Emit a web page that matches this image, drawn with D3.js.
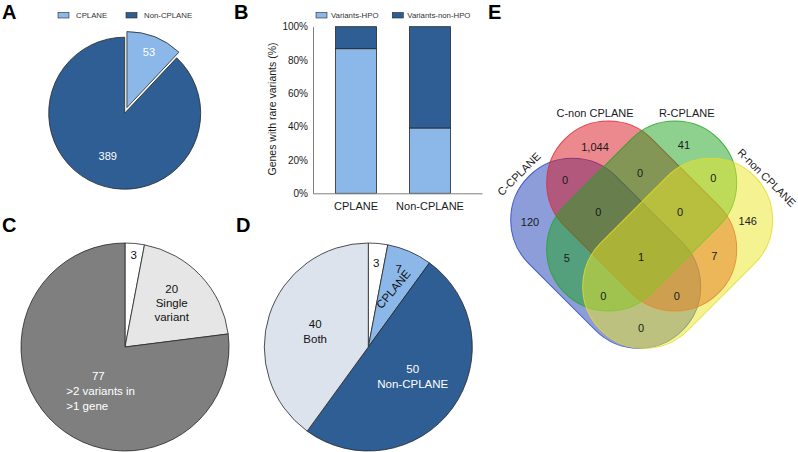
<!DOCTYPE html>
<html>
<head>
<meta charset="utf-8" />
<title>CPLANE figure</title>
<script src="https://cdn.jsdelivr.net/npm/d3@7"></script>
<style>
    body { margin: 0; background: #fff; }
    svg text { font-family: "Liberation Sans", Arial, sans-serif; }
    .letter { font-size: 20px; font-weight: bold; fill: #000; }
</style>
</head>
<body>
<svg id="fig" width="798" height="452"></svg>
<script>
// ---- data ----
var pieACats = ["CPLANE", "Non-CPLANE"];
var pieAValues = [53, 389];

var barCats = ["CPLANE", "Non-CPLANE"];
var seriesB = ["Variants-HPO", "Variants-non-HPO"];
var hpoPct = [86.8, 39.2];
var nonHpoPct = [13.2, 60.8];
var yTicksB = [0, 20, 40, 60, 80, 100];

var pieCValues = [3, 20, 77];
var pieCLabels = [["3"], ["20", "Single", "variant"], ["77", ">2 variants in", ">1 gene"]];

var pieDValues = [3, 7, 50, 40];
var pieDLabels = [["3"], ["7"], ["50", "Non-CPLANE"], ["40", "Both"]];

var vennSets = ["C-CPLANE", "C-non CPLANE", "R-CPLANE", "R-non CPLANE"];
var vennRegions = ["A", "B", "C", "D", "AB", "BC", "CD", "ABC", "BCD", "AC", "ABCD", "BD", "ACD", "ABD", "AD"];
var vennCounts = [120, 1044, 41, 146, 0, 0, 0, 0, 0, 5, 1, 7, 0, 0, 0];

// ---- colours ----
var lightBlue = "#8bb8e8", darkBlue = "#2e5e93", edge = "#262626";

var svg = d3.select("#fig");

function letter(t, x, y) {
    svg.append("text").attr("class", "letter").attr("x", x).attr("y", y).text(t);
}

function legend(g, names, colors, xs, textGap) {
    names.forEach(function (n, i) {
        g.append("rect").attr("x", xs[i]).attr("y", 12.5).attr("width", 11).attr("height", 5.5)
            .attr("fill", colors[i]).attr("stroke", edge).attr("stroke-width", 0.6);
        g.append("text").attr("x", xs[i] + 11 + textGap).attr("y", 15.3).attr("dy", "0.35em")
            .style("font-size", "7.8px").attr("fill", "#333").text(n);
    });
}

// ---- A: pie ----
letter("A", 2, 19);
legend(svg.append("g"), pieACats, [lightBlue, darkBlue], [58, 126], 7);

var rA = 76, cA = [124.7, 113.2];
var arcsA = d3.pie().sort(null)(pieAValues);
var arcA = d3.arc().innerRadius(0).outerRadius(rA);
var gA = svg.append("g").attr("transform", "translate(" + cA + ")");
gA.selectAll("path").data(arcsA).enter().append("path")
    .attr("d", arcA)
    .attr("transform", function (d, i) {
        if (i > 0) return null;
        var m = (d.startAngle + d.endAngle) / 2;
        return "translate(" + (Math.sin(m) * 6) + "," + (-Math.cos(m) * 6) + ")";
    })
    .attr("fill", function (d, i) { return [lightBlue, darkBlue][i]; })
    .attr("stroke", edge).attr("stroke-width", 0.8);
var labelArcA = [d3.arc().innerRadius(60).outerRadius(60), d3.arc().innerRadius(46).outerRadius(46)];
gA.selectAll("text.v").data(arcsA).enter().append("text")
    .attr("transform", function (d, i) {
        var c = labelArcA[i].centroid(d);
        if (i === 0) { var m = (d.startAngle + d.endAngle) / 2; c[0] += Math.sin(m) * 6; c[1] -= Math.cos(m) * 6; }
        return "translate(" + c + ")";
    })
    .attr("dy", "0.35em").attr("text-anchor", "middle").style("font-size", "11px").attr("fill", "#fff")
    .text(function (d) { return d.data; });

// ---- B: stacked bars ----
letter("B", 234, 19);
legend(svg.append("g"), seriesB, [lightBlue, darkBlue], [316, 392.3], 4);

var xB = d3.scaleBand().domain(barCats).range([313, 482]).paddingInner(0.446).paddingOuter(0.365).align(0.417);
var yB = d3.scaleLinear().domain([0, 100]).range([193.3, 26.7]);
var stackB = d3.stack().keys(seriesB)(barCats.map(function (c, i) {
    var o = { cat: c }; o[seriesB[0]] = hpoPct[i]; o[seriesB[1]] = nonHpoPct[i]; return o;
}));
var gB = svg.append("g");
gB.selectAll("g.s").data(stackB).enter().append("g")
    .attr("fill", function (d, i) { return [lightBlue, darkBlue][i]; })
    .selectAll("rect").data(function (d) { return d; }).enter().append("rect")
    .attr("x", function (d) { return xB(d.data.cat); })
    .attr("width", xB.bandwidth())
    .attr("y", function (d) { return yB(d[1]); })
    .attr("height", function (d) { return yB(d[0]) - yB(d[1]); })
    .attr("stroke", edge).attr("stroke-width", 0.8);

var yAxisB = gB.append("g").attr("transform", "translate(313,0)")
    .call(d3.axisLeft(yB).tickValues(yTicksB).tickSize(0).tickSizeOuter(0).tickPadding(5)
        .tickFormat(function (d) { return d + "%"; }));
var xAxisB = gB.append("g").attr("transform", "translate(0,193.3)")
    .call(d3.axisBottom(xB).tickSize(0).tickSizeOuter(0).tickPadding(9));
[yAxisB, xAxisB].forEach(function (a) {
    a.select(".domain").attr("stroke", "#7f7f7f").attr("stroke-width", 1);
    a.selectAll("text").style("font-family", "'Liberation Sans', Arial, sans-serif").attr("fill", "#1a1a1a");
});
yAxisB.selectAll("text").style("font-size", "10px");
xAxisB.selectAll("text").style("font-size", "11px");
gB.append("text").attr("transform", "translate(272,109) rotate(-90)")
    .attr("text-anchor", "middle").attr("dy", "0.35em").style("font-size", "10.5px").attr("fill", "#1a1a1a")
    .text("Genes with rare variants (%)");

// ---- pie helper for C and D ----
function drawPie(cx, cy, r, values, colors, labels, layout) {
    var g = svg.append("g").attr("transform", "translate(" + cx + "," + cy + ")");
    var arcs = d3.pie().sort(null)(values);
    var arc = d3.arc().innerRadius(0).outerRadius(r);
    g.selectAll("path").data(arcs).enter().append("path")
        .attr("d", arc).attr("fill", function (d, i) { return colors[i]; })
        .attr("stroke", edge).attr("stroke-width", 0.8);
    arcs.forEach(function (d, i) {
        var L = layout[i];
        var c = d3.arc().innerRadius(L.r).outerRadius(L.r).centroid(d);
        var x = c[0] + (L.dx || 0), y = c[1] + (L.dy || 0);
        var lines = labels[i], lh = L.lh || 14.5;
        lines.forEach(function (t, k) {
            var start = L.leftFrom !== undefined && k >= L.leftFrom;
            g.append("text")
                .attr("x", start ? x + L.leftX : x)
                .attr("y", y + (k - (lines.length - 1) / 2) * lh)
                .attr("dy", "0.35em")
                .attr("text-anchor", start ? "start" : "middle")
                .style("font-size", "11.5px")
                .attr("fill", L.fill || "#111")
                .text(t);
        });
    });
    return { g: g, arcs: arcs };
}

// ---- C ----
letter("C", 2, 232);
drawPie(125, 347, 104, pieCValues, ["#ffffff", "#e6e6e6", "#7f7f7f"], pieCLabels, [
    { r: 92 },
    { r: 64, dy: 0, lh: 14.2 },
    { r: 51, dx: 7, dy: 6, lh: 15, fill: "#fff", leftFrom: 1, leftX: -32 }
]);

// ---- D ----
letter("D", 236, 232);
var pd = drawPie(368.3, 347, 104, pieDValues, ["#ffffff", lightBlue, darkBlue, "#dde3ed"], pieDLabels, [
    { r: 84 },
    { r: 84, dx: -3, dy: -1 },
    { r: 50, dx: 4, dy: 0, lh: 15, fill: "#fff" },
    { r: 58, dx: 2, dy: 2, lh: 15 }
]);
var cpl = d3.arc().innerRadius(63).outerRadius(63).centroid(pd.arcs[1]);
pd.g.append("text")
    .attr("transform", "translate(" + cpl + ") rotate(-50)")
    .attr("text-anchor", "middle").attr("dy", "0.35em").style("font-size", "11.5px").attr("fill", "#111")
    .text(pieACats[0]);

// ---- E: four-set Venn ----
letter("E", 488, 19);
var vc = [641.7, 216];
var pillL = 217.6, pillW = 123.4;
var vennShapes = [
    { dx: -36, dy: 37.3, rot: 45, fill: "#1a3bb5", stroke: "#2a48c4" },
    { dx: 0, dy: 0, rot: 45, fill: "#d8141f", stroke: "#e02a33" },
    { dx: 0, dy: 0, rot: -45, fill: "#1da31d", stroke: "#26a526" },
    { dx: 36, dy: 37.3, rot: -45, fill: "#ece624", stroke: "#e3dc2a" }
];
var gE = svg.append("g").attr("transform", "translate(" + vc + ")");
gE.selectAll("rect").data(vennShapes).enter().append("rect")
    .attr("x", -pillL / 2).attr("y", -pillW / 2)
    .attr("width", pillL).attr("height", pillW)
    .attr("rx", pillW / 2).attr("ry", pillW / 2)
    .attr("transform", function (d) { return "translate(" + d.dx + "," + d.dy + ") rotate(" + d.rot + ")"; })
    .attr("fill", function (d) { return d.fill; }).attr("fill-opacity", 0.5)
    .attr("stroke", function (d) { return d.stroke; }).attr("stroke-width", 1).attr("stroke-opacity", 0.85);

// set name positions
var setPos = [[-122.7, -42, -45], [-46.7, -102.5, 0], [45, -102.5, 0], [125, -38.3, 45]];
gE.selectAll("text.set").data(vennSets).enter().append("text")
    .attr("transform", function (d, i) { var p = setPos[i]; return "translate(" + p[0] + "," + p[1] + ") rotate(" + p[2] + ")"; })
    .attr("text-anchor", "middle").attr("dy", "0.35em").style("font-size", "11px").attr("fill", "#1a1a1a")
    .text(function (d) { return d; });

// region count positions
var regionPos = {
    A: [-111.7, 5.7], B: [-46.7, -68.7], C: [42.3, -71], D: [106, 4.7],
    AB: [-76.7, -36], BC: [-1.7, -42.7], CD: [71.6, -37.7],
    ABC: [-43.4, -4.3], BCD: [38.3, -3.7],
    AC: [-75, 42.3], ABCD: [-0.7, 40.7], BD: [72.6, 39.7],
    ACD: [-38.4, 79.7], ABD: [35, 79.7], AD: [-0.7, 112.3]
};
var fmt = d3.format(",");
gE.selectAll("text.cnt").data(vennRegions).enter().append("text")
    .attr("x", function (d) { return regionPos[d][0]; })
    .attr("y", function (d) { return regionPos[d][1]; })
    .attr("dy", "0.35em").attr("text-anchor", "middle").style("font-size", "11px").attr("fill", "#1a1a1a")
    .text(function (d, i) { return fmt(vennCounts[i]); });
</script>
</body>
</html>
